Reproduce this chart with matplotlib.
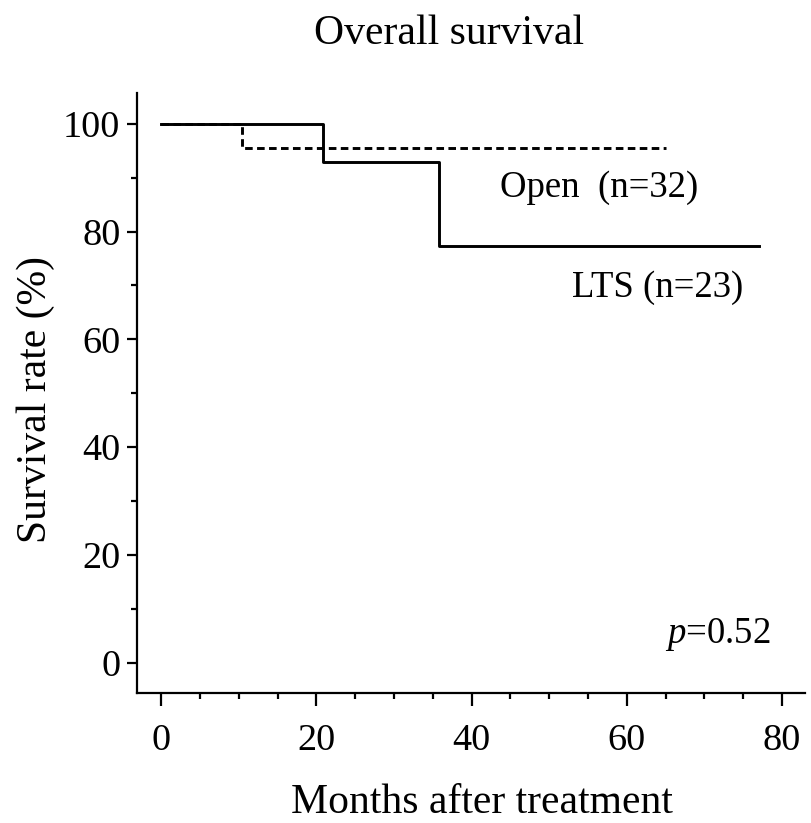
import matplotlib
matplotlib.use("Agg")
import matplotlib.pyplot as plt
from matplotlib.ticker import MultipleLocator

plt.rcParams['font.family'] = ['Liberation Serif', 'DejaVu Serif']
plt.rcParams['mathtext.fontset'] = 'custom'
plt.rcParams['mathtext.rm'] = 'Liberation Serif'
plt.rcParams['mathtext.it'] = 'Liberation Serif:italic'

# Kaplan-Meier step points
lts_time = [0, 20.9, 35.8, 77.0]
lts_surv = [100, 92.9, 77.4, 77.4]
open_time = [0, 10.4, 65.1]
open_surv = [100, 95.5, 95.5]

fig = plt.figure(figsize=(8.11, 8.23), dpi=100)
ax = fig.add_axes([0.169, 0.158, 0.824, 0.729])

ax.step(open_time, open_surv, where='post', color='black', lw=2.1, linestyle=(0, (2.6, 1.5)))
ax.step(lts_time, lts_surv, where='post', color='black', lw=2.1)

ax.set_xlim(-3.1, 83)
ax.set_ylim(-5.6, 105.7)
ax.xaxis.set_major_locator(MultipleLocator(20))
ax.xaxis.set_minor_locator(MultipleLocator(5))
ax.yaxis.set_major_locator(MultipleLocator(20))
ax.yaxis.set_minor_locator(MultipleLocator(10))

for s in ['top', 'right']:
    ax.spines[s].set_visible(False)
for s in ['left', 'bottom']:
    ax.spines[s].set_linewidth(1.6)

ax.tick_params(axis='both', which='major', labelsize=27.5, width=1.6, direction='out')
ax.tick_params(axis='x', which='major', length=9.4, pad=12.5)
ax.tick_params(axis='y', which='major', length=7, pad=5)
ax.tick_params(axis='both', which='minor', width=1.6, length=4.3)

ax.text(69.2, 86.5, 'Open  (n=32)', fontsize=26.5, ha='right', va='baseline')
ax.text(75.0, 67.9, 'LTS (n=23)', fontsize=26.5, ha='right', va='baseline')
ax.text(78.5, 3.7, r'$p$=0.52', fontsize=26.5, ha='right', va='baseline')

fig.text(0.5536, 0.9465, 'Overall survival', fontsize=30, ha='center', va='baseline')
fig.text(0.594, 0.0122, 'Months after treatment', fontsize=30, ha='center', va='baseline')
fig.text(0.044, 0.514, 'Survival rate (%)', fontsize=30, ha='center', va='center', rotation=90)

fig.savefig('out.png', dpi=100)
